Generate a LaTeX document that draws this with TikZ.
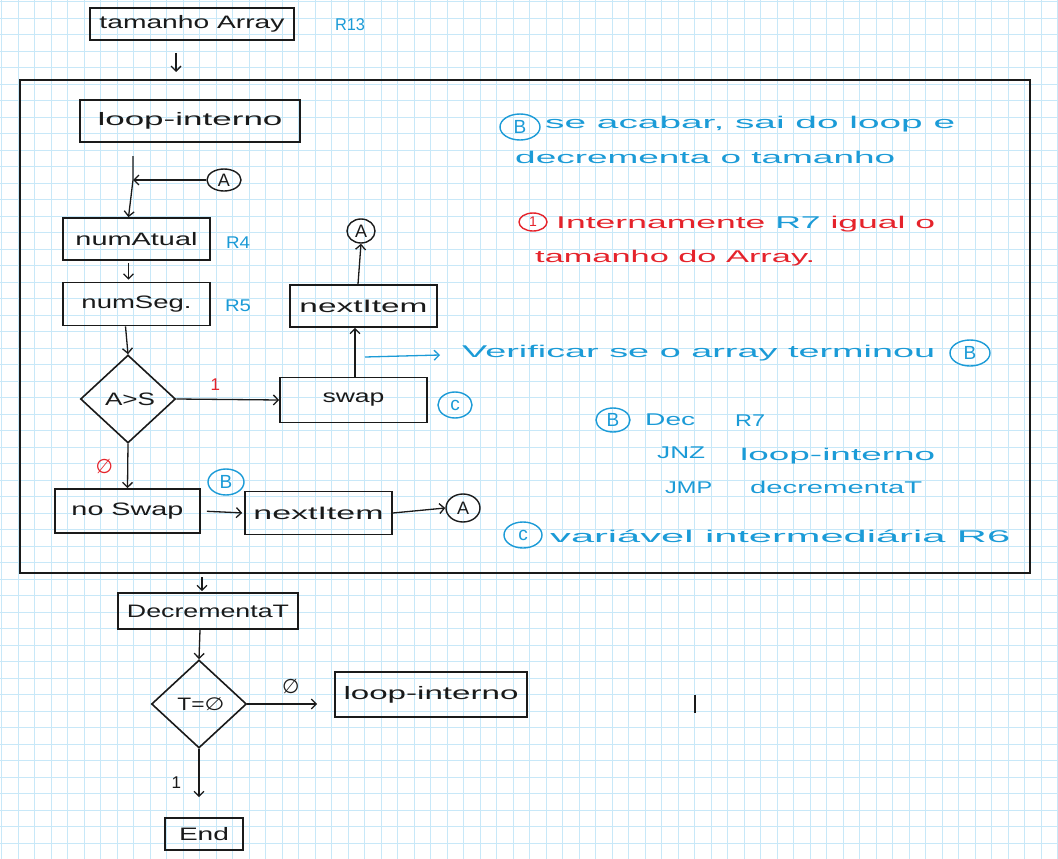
\documentclass[tikz,border=0pt]{standalone}
\usepackage{fontspec}
\setmainfont{Liberation Sans}
\newfontfamily\dv{DejaVu Sans}
\usetikzlibrary{shapes.geometric,arrows.meta,calc}
\definecolor{gridc}{HTML}{C8E8F8}
\definecolor{pen}{HTML}{1A1A1A}
\definecolor{bl}{HTML}{1B9BD7}
\definecolor{rd}{HTML}{E5232B}
\newcommand\hw[2]{\resizebox{#1pt}{\height}{#2}}
\newcommand\nul{{\dv ∅}}
\tikzset{
  bx/.style={draw=pen, line width=1.6pt, inner sep=0pt, text=pen, font=\fontsize{18}{20}\selectfont},
  conn/.style={draw=pen, line width=1.3pt, -{Straight Barb[length=5pt,width=10pt]}},
  bconn/.style={draw=bl, line width=1.3pt, -{Straight Barb[length=5pt,width=10pt]}},
  dia/.style={diamond, draw=pen, line width=1.6pt, inner sep=0pt, minimum width=95, minimum height=88},
  dtxt/.style={inner sep=0pt, text=pen, font=\fontsize{18}{20}\selectfont},
  kcirc/.style={ellipse, draw=pen, line width=1.4pt, inner sep=0pt, text=pen, font=\fontsize{18}{19}\selectfont},
  bcirc/.style={ellipse, draw=bl, line width=1.4pt, inner sep=0pt, text=bl, font=\fontsize{19}{20}\selectfont},
  rcirc/.style={ellipse, draw=rd, line width=1.4pt, inner sep=0pt, text=rd, font=\fontsize{14}{15}\selectfont},
  btxt/.style={text=bl, inner sep=0pt, font=\fontsize{17}{20}\selectfont},
  rtxt/.style={text=rd, inner sep=0pt, font=\fontsize{17}{20}\selectfont},
}
\begin{document}
\begin{tikzpicture}[x=1pt,y=-1pt]
\useasboundingbox (0,0) rectangle (1058,859);
\fill[white] (0,0) rectangle (1058,859);
\foreach \i in {0,...,64} \draw[gridc, line width=1pt] ({1.8+16.5*\i},0) -- ({1.8+16.5*\i},859);
\foreach \i in {0,...,52} \draw[gridc, line width=1pt] (0,{1.8+16.5*\i}) -- (1058,{1.8+16.5*\i});

% top
\node[bx, minimum width=204, minimum height=32] (tam) at (192,24) {\hw{185}{tamanho Array}};
\node[btxt] (r13) at (350,25) {\hw{30}{R13}};
\coordinate (a0s) at (176,53);
\coordinate (a0e) at (176,72);
\draw[conn] (a0s) -- (a0e);

% frame
\draw[draw=pen, line width=1.6pt] (20,80) rectangle (1030,573);

\node[bx, minimum width=220, minimum height=42] (loop1) at (190,121) {\hw{185}{loop-interno}};
\coordinate (t1) at (133,156);
\coordinate (j1) at (133,180);
\node[kcirc, minimum width=34, minimum height=22] (A1) at (224,180) {A};
\draw[conn] (A1.west) -- (j1);
\node[bx, minimum width=147, minimum height=42] (numA) at (136.5,239) {\hw{122}{numAtual}};
\draw[conn] (t1) -- (j1) -- ($(numA.north)+(-8,0)$);
\node[btxt] (r4) at (238,243) {\hw{24}{R4}};

\node[bx, minimum width=147, minimum height=43] (numS) at (136.5,304) {\hw{110}{numSeg.}};
\node[btxt] (r5) at (238,306) {\hw{26}{R5}};
\draw[conn] ($(numA.south)+(-8,2)$) -- ($(numS.north)+(-8,-2)$);

\node[dia] (d1) at (128,399) {};
\node[dtxt] (d1t) at (130,399) {\hw{50}{A>S}};
\draw[conn] ($(numS.south)+(-11,0)$) -- (d1.north);

\node[bx, minimum width=147, minimum height=45] (swap) at (353.5,400) {\hw{62}{swap}};
\draw[conn] (d1.east) -- node[rtxt, above=8pt, pos=0.38] {1} (swap.west);
\node[bcirc, minimum width=34, minimum height=26] (C1) at (455,405) {c};

\node[bx, minimum width=147, minimum height=42] (next1) at (363.5,306) {\hw{128}{nextItem}};
\draw[conn] ($(swap.north)+(1.5,0)$) -- ($(next1.south)+(-8.5,0)$);
\node[kcirc, minimum width=28, minimum height=24] (A2) at (361,231) {A};
\draw[conn] ($(next1.north)+(-5.5,0)$) -- (A2.south);

\coordinate (v1) at (365,357);
\coordinate (v2) at (440,355);
\draw[bconn] (v1) -- (v2);
\node[btxt, anchor=west] (ver) at (462,353) {\hw{473}{Verificar se o array terminou}};
\node[bcirc, minimum width=40, minimum height=26] (Bv) at (970,353) {B};

\node[bx, minimum width=145, minimum height=44] (noS) at (127.5,511) {\hw{112}{no Swap}};
\draw[conn] (d1.south) -- node[rtxt, left=14pt, font=\fontsize{20}{22}\selectfont] {\nul} (noS.north);
\node[bcirc, minimum width=36, minimum height=26] (B1) at (226,482) {B};
\node[bx, minimum width=147, minimum height=43] (next2) at (318.5,513) {\hw{130}{nextItem}};
\draw[conn, shorten <=6pt, shorten >=2pt] (noS.east) -- (next2.west);
\node[kcirc, minimum width=34, minimum height=28] (A3) at (463,508) {A};
\draw[conn] (next2.east) -- (A3.west);

% blue note B
\node[bcirc, minimum width=40, minimum height=26] (Bn) at (520,127) {B};
\node[btxt, anchor=west] (n1a) at (545,124) {\hw{410}{se acabar, sai do loop e}};
\node[btxt, anchor=west] (n1b) at (515,157) {\hw{380}{decrementa o tamanho}};

% red note
\node[rcirc, minimum width=28, minimum height=18] (Rn) at (533,222) {1};
\node[rtxt, anchor=west] (n2a) at (556,224) {\hw{379}{Internamente \textcolor{bl}{R7} igual o}};
\node[rtxt, anchor=west] (n2b) at (535,258) {\hw{280}{tamanho do Array.}};

% code
\node[bcirc, minimum width=34, minimum height=24] (Bc) at (613,420) {B};
\node[btxt, anchor=west] (c1) at (645,420) {\hw{50}{Dec}};
\node[btxt, anchor=west] (c2) at (735,421) {\hw{30}{R7}};
\node[btxt, anchor=west] (c3) at (657,453) {\hw{48}{JNZ}};
\node[btxt, anchor=west] (c4) at (740,456) {\hw{195}{loop-interno}};
\node[btxt, anchor=west] (c5) at (665,488) {\hw{47}{JMP}};
\node[btxt, anchor=west] (c6) at (750,487) {\hw{172}{decrementaT}};

\node[bcirc, minimum width=38, minimum height=26] (Cn) at (523,535) {c};
\node[btxt, anchor=west] (n3) at (550,536) {\hw{460}{variável intermediária R6}};

% bottom
\coordinate (b0) at (202,577);
\node[bx, minimum width=180, minimum height=36] (decT) at (208,611) {\hw{162}{DecrementaT}};
\draw[conn] (b0) -- ($(decT.north)+(-6,-1)$);
\node[dia] (d2) at (199,704) {};
\node[dtxt] (d2t) at (201,704) {\hw{47}{T=\nul}};
\draw[conn] ($(decT.south)+(-8,0)$) -- (d2.north);
\node[bx, minimum width=192, minimum height=45] (loop2) at (431,694.5) {\hw{175}{loop-interno}};
\draw[conn, shorten >=17pt] (d2.east) -- node[above=6pt, text=pen, font=\fontsize{20}{22}\selectfont] {\nul} (loop2.west |- d2.east);
\node[bx, minimum width=78, minimum height=32] (endn) at (204,834) {\hw{50}{End}};
\draw[conn, shorten >=20pt] (d2.south) -- node[left=14pt, text=pen, font=\fontsize{17}{20}\selectfont] {1} (d2.south |- endn.north);

\coordinate (tk1) at (695,695);
\coordinate (tk2) at (695,713);
\draw[pen, line width=1.3pt] (tk1) -- (tk2);
\end{tikzpicture}
\end{document}
